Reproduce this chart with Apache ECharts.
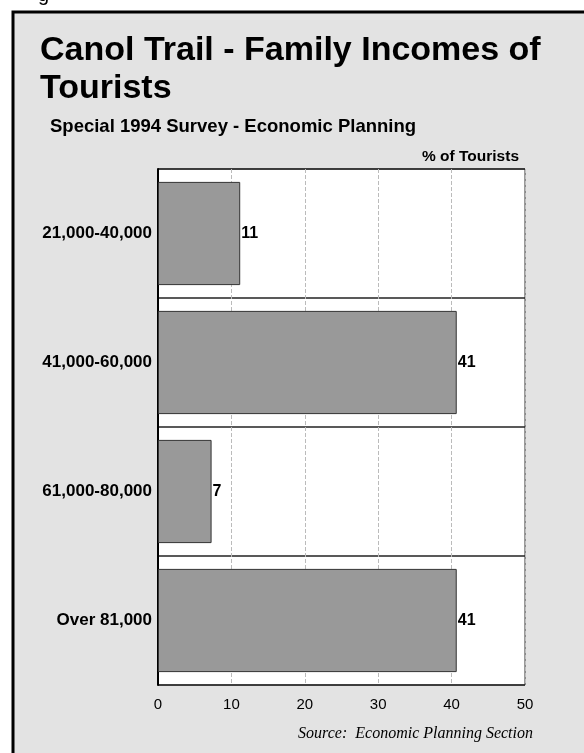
<!DOCTYPE html>
<html>
<head>
<meta charset="utf-8">
<script src="https://cdn.jsdelivr.net/npm/echarts@6/dist/echarts.min.js"></script>
<style>
  html, body { margin: 0; padding: 0; background: #fff; }
  #chart { width: 584px; height: 753px; }
</style>
</head>
<body>
<div id="chart"></div>
<script>
// income bands (top to bottom) and share of tourists
var incomeBands = ['21,000-40,000', '41,000-60,000', '61,000-80,000', 'Over 81,000'];
var pctTourists = [11.2, 40.7, 7.3, 40.7];
var xTicks = [0, 10, 20, 30, 40, 50];

var chart = echarts.init(document.getElementById('chart'));

chart.setOption({
    animation: false,
    backgroundColor: '#fff',
    textStyle: { fontFamily: 'Liberation Sans, Arial, sans-serif' },
    graphic: [
        // outer frame, runs off the right and bottom of the page
        {
            type: 'rect',
            shape: { x: 13, y: 12, width: 600, height: 760 },
            style: { fill: '#e3e3e3', stroke: '#000', lineWidth: 3 },
            z: -10
        },
        // descender of a cut off caption above the frame
        {
            type: 'text', left: 38, top: -15,
            style: { text: 'g', font: '20px Liberation Sans', fill: '#000' }
        },
        {
            type: 'text', left: 40, top: 32,
            style: {
                text: 'Canol Trail - Family Incomes of\nTourists',
                font: 'bold 34px Liberation Sans', lineHeight: 38, fill: '#000'
            }
        },
        {
            type: 'text', left: 50, top: 117,
            style: { text: 'Special 1994 Survey - Economic Planning', font: 'bold 18.5px Liberation Sans', fill: '#000' }
        },
        {
            type: 'text', right: 65, top: 149,
            style: { text: '% of Tourists', font: 'bold 15.5px Liberation Sans', fill: '#000' }
        },
        {
            type: 'text', right: 51, top: 726,
            style: { text: 'Source:  Economic Planning Section', font: 'italic 16px Liberation Serif', fill: '#000' }
        }
    ],
    grid: {
        left: 158, top: 169, right: 59, bottom: 68,
        show: true, backgroundColor: '#fff', borderColor: '#333', borderWidth: 1
    },
    xAxis: {
        type: 'value',
        min: xTicks[0], max: xTicks[xTicks.length - 1], interval: 10,
        axisLine: { show: false },
        axisTick: { show: false },
        axisLabel: { color: '#000', fontSize: 15, margin: 12 },
        splitLine: { show: true, lineStyle: { color: '#bbb', type: 'dashed', width: 1 } }
    },
    yAxis: {
        type: 'category',
        inverse: true,
        data: incomeBands,
        axisLine: { show: true, lineStyle: { color: '#000', width: 2 } },
        axisTick: { show: false },
        axisLabel: { color: '#000', fontSize: 17, fontWeight: 'bold', margin: 6 },
        splitLine: { show: true, lineStyle: { color: '#222', width: 1.5 } }
    },
    series: [{
        type: 'bar',
        data: pctTourists,
        barCategoryGap: '20%',
        itemStyle: { color: '#999', borderColor: '#333', borderWidth: 1 },
        label: {
            show: true, position: 'right', distance: 1,
            color: '#000', fontSize: 16, fontWeight: 'bold',
            formatter: function (p) { return Math.round(p.value); }
        }
    }]
});
</script>
</body>
</html>
